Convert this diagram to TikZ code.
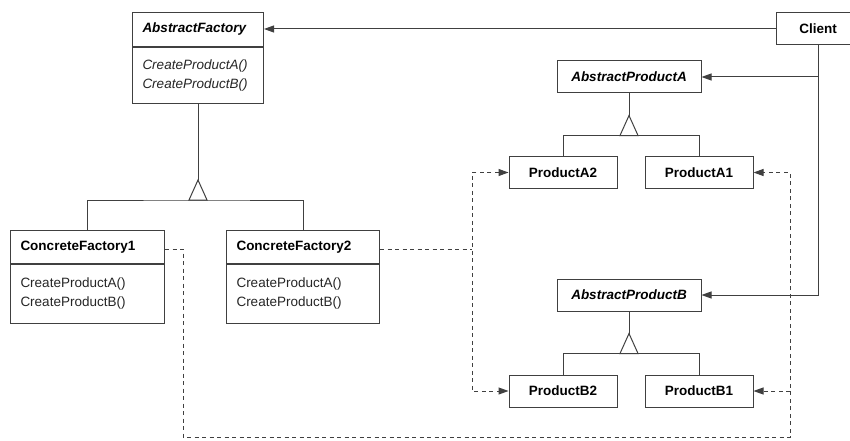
\documentclass[tikz,border=0pt]{standalone}
\usepackage{fontspec}
\setmainfont{Liberation Sans}
\usetikzlibrary{arrows.meta}
\newcommand\dfont{\fontsize{13.5pt}{19pt}\selectfont}
\definecolor{linec}{gray}{0.25}
\begin{document}
\begin{tikzpicture}[x=1pt,y=-1pt,
  line/.style={draw=linec, line width=1pt},
  dep/.style={draw=linec, line width=1pt, dash pattern=on 4pt off 3.5pt},
  tip/.style={-{Triangle[length=10pt,width=7pt]}},
  hdr/.style={line, anchor=north west, inner xsep=10pt, inner ysep=0pt, align=left},
  pbox/.style={line, inner sep=0pt, minimum width=108pt, minimum height=32pt},
  title/.style={font=\dfont\bfseries},
  atitle/.style={font=\dfont\bfseries\itshape},
  meth/.style={font=\dfont, text=black!85},
  ameth/.style={font=\dfont\itshape, text=black!85}]
\fill[white] (0,0) rectangle (850,441);
\useasboundingbox (0,0) rectangle (850,441);

% abstract factory class
\node[hdr, atitle, text width=111pt, minimum height=34pt] (af) at (132,12) {AbstractFactory};
\node[hdr, ameth, text width=111pt, minimum height=56pt] (afm) at (af.south west) {CreateProductA()\\CreateProductB()};

% concrete factories
\node[hdr, title, text width=134pt, minimum height=33pt] (cf1) at (10,230) {ConcreteFactory1};
\node[hdr, meth, text width=134pt, minimum height=59pt] (cf1m) at (cf1.south west) {CreateProductA()\\CreateProductB()};
\node[hdr, title, text width=133pt, minimum height=33pt] (cf2) at (226,230) {ConcreteFactory2};
\node[hdr, meth, text width=133pt, minimum height=59pt] (cf2m) at (cf2.south west) {CreateProductA()\\CreateProductB()};

% client
\node[line, title, inner sep=0pt, minimum width=84pt, minimum height=32pt] (client) at (818,29) {Client};

% products
\node[pbox, atitle, minimum width=144pt] (apa) at (629,77) {AbstractProductA};
\node[pbox, title] (pa2) at (563,172.5) {ProductA2};
\node[pbox, title] (pa1) at (699,172.5) {ProductA1};
\node[pbox, atitle, minimum width=144pt] (apb) at (629,295) {AbstractProductB};
\node[pbox, title] (pb2) at (563,391) {ProductB2};
\node[pbox, title] (pb1) at (699,391) {ProductB1};

% generalisation: factories
\coordinate (afTop) at ([yshift=-76pt]afm.south);
\coordinate (afBar) at ([yshift=-96pt]afm.south);
\draw[line] (afm.south) -- (afTop);
\draw[line, fill=white] (afTop) -- ++(-9,20) -- ++(18,0) -- cycle;
\draw[line] (cf1.north) |- (afBar) -| (cf2.north);

% generalisation: product A
\coordinate (paTop) at ([yshift=-22pt]apa.south);
\coordinate (paBar) at ([yshift=-42pt]apa.south);
\draw[line] (apa.south) -- (paTop);
\draw[line, fill=white] (paTop) -- ++(-9,20) -- ++(18,0) -- cycle;
\draw[line] (pa2.north) |- (paBar) -| (pa1.north);

% generalisation: product B
\coordinate (pbTop) at ([yshift=-22pt]apb.south);
\coordinate (pbBar) at ([yshift=-42pt]apb.south);
\draw[line] (apb.south) -- (pbTop);
\draw[line, fill=white] (pbTop) -- ++(-9,20) -- ++(18,0) -- cycle;
\draw[line] (pb2.north) |- (pbBar) -| (pb1.north);

% client associations
\draw[line, tip] (client.west) -- (client.west -| af.east);
\draw[line, tip] (client.south) |- (apb.east);
\draw[line, tip] (client.south |- apa.east) -- (apa.east);

% ConcreteFactory2 creates ProductA2 and ProductB2
\coordinate (jR) at (472,249);
\draw[dep] (cf2.east |- jR) -- (jR);
\draw[dep, {Triangle[length=10pt,width=7pt]}-{Triangle[length=10pt,width=7pt]}] (pa2.west) -| (jR) |- (pb2.west);

% ConcreteFactory1 creates ProductA1 and ProductB1
\coordinate (jL1) at (183,437);
\coordinate (jL2) at (790,437);
\draw[dep, tip] (cf1.east |- jR) -| (jL1) -- (jL2) |- (pa1.east);
\draw[dep, tip] (jL2 |- pb1.east) -- (pb1.east);
\end{tikzpicture}
\end{document}
